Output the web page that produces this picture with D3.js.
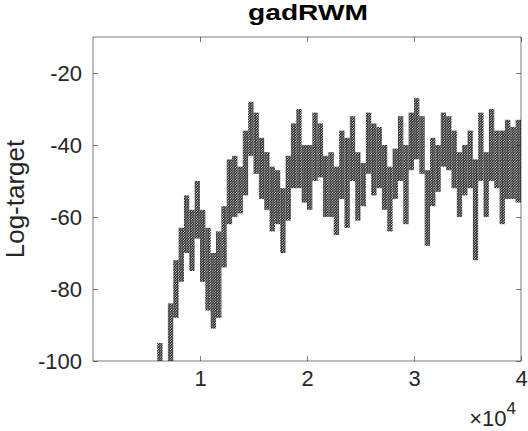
<!DOCTYPE html>
<html>
<head>
<meta charset="utf-8">
<script src="https://cdn.jsdelivr.net/npm/d3@7"></script>
<style>
body { margin: 0; background: #fff; }
text { font-family: "Liberation Sans", Arial, sans-serif; fill: #262626; }
</style>
</head>
<body>
<div id="chart"></div>
<script>
// chain trace: per 500-iteration bin, lowest and highest log-target
var iterations = [6250, 6750, 7250, 7750, 8250, 8750, 9250, 9750, 10250, 10750,
	11250, 11750, 12250, 12750, 13250, 13750, 14250, 14750, 15250, 15750,
	16250, 16750, 17250, 17750, 18250, 18750, 19250, 19750, 20250, 20750,
	21250, 21750, 22250, 22750, 23250, 23750, 24250, 24750, 25250, 25750,
	26250, 26750, 27250, 27750, 28250, 28750, 29250, 29750, 30250, 30750,
	31250, 31750, 32250, 32750, 33250, 33750, 34250, 34750, 35250, 35750,
	36250, 36750, 37250, 37750, 38250, 38750, 39250, 39750];
var traceLow = [-104, -106, -101, -88, -78, -70, -75, -66, -78, -86,
	-91, -88, -74, -62, -60, -59, -54, -43, -48, -55,
	-58, -64, -62, -70, -61, -52, -52, -56, -58, -50,
	-49, -60, -60, -65, -55, -63, -50, -61, -57, -48,
	-54, -52, -58, -64, -55, -50, -62, -47, -44, -48,
	-68, -57, -53, -46, -47, -52, -60, -54, -52, -72,
	-50, -60, -50, -52, -62, -55, -55, -56];
var traceHigh = [-95, -101, -84, -72, -63, -54, -58, -50, -58, -63,
	-70, -64, -57, -44, -43, -46, -36, -28, -31, -38,
	-42, -46, -47, -52, -43, -34, -30, -40, -40, -31,
	-34, -43, -42, -46, -36, -38, -32, -42, -45, -31,
	-34, -35, -40, -46, -41, -32, -40, -31, -27, -32,
	-47, -38, -40, -31, -32, -36, -42, -40, -36, -44,
	-31, -42, -30, -36, -36, -33, -35, -33];
var binWidth = 500;
var xTicks = [10000, 20000, 30000, 40000];
var xTickLabels = ["1", "2", "3", "4"];
var yTicks = [-100, -80, -60, -40, -20];

var margin = {top: 37, right: 7, bottom: 70, left: 93};
var width = 528 - margin.left - margin.right;
var height = 431 - margin.top - margin.bottom;

var svg = d3.select("#chart").append("svg")
	.attr("width", 528)
	.attr("height", 431);

var defs = svg.append("defs");
var pat = defs.append("pattern")
	.attr("id", "dots")
	.attr("patternUnits", "userSpaceOnUse")
	.attr("width", 2.6)
	.attr("height", 2.6);
pat.append("circle").attr("cx", 0.65).attr("cy", 0.65).attr("r", 0.95).attr("fill", "#000");
pat.append("circle").attr("cx", 1.95).attr("cy", 1.95).attr("r", 0.95).attr("fill", "#000");

defs.append("clipPath").attr("id", "plotclip")
	.append("rect").attr("width", width).attr("height", height);

var g = svg.append("g")
	.attr("transform", "translate(" + margin.left + "," + margin.top + ")");

var x = d3.scaleLinear().domain([0, 40000]).range([0, width]);
var y = d3.scaleLinear().domain([-100, -10]).range([height, 0]);

var bins = iterations.map(function(it, i) {
	return {it: it, lo: traceLow[i], hi: traceHigh[i]};
});

g.append("g")
	.attr("clip-path", "url(#plotclip)")
	.selectAll("rect")
	.data(bins)
  .enter().append("rect")
	.attr("x", function(d) { return x(d.it - binWidth / 2); })
	.attr("width", function(d) { return x(d.it + binWidth / 2) - x(d.it - binWidth / 2); })
	.attr("y", function(d) { return y(d.hi); })
	.attr("height", function(d) { return y(d.lo) - y(d.hi); })
	.attr("fill", "url(#dots)");

// axes, MATLAB style: ticks inside, box on
function styleAxis(sel) {
	sel.select(".domain").remove();
	sel.selectAll(".tick line").attr("stroke", "#262626").attr("stroke-width", 0.6);
	sel.selectAll(".tick text").attr("font-size", "22px").attr("fill", "#262626");
}

g.append("g")
	.attr("transform", "translate(0," + height + ")")
	.call(d3.axisBottom(x).tickValues(xTicks).tickSizeInner(-5).tickPadding(9)
		.tickFormat(function(d, i) { return xTickLabels[i]; }))
	.call(styleAxis);

g.append("g")
	.call(d3.axisTop(x).tickValues(xTicks).tickSizeInner(-5).tickFormat(""))
	.call(styleAxis);

g.append("g")
	.call(d3.axisLeft(y).tickValues(yTicks).tickSizeInner(-5).tickPadding(11)
		.tickFormat(function(d) { return String(d); }))
	.call(styleAxis);

g.append("g")
	.attr("transform", "translate(" + width + ",0)")
	.call(d3.axisRight(y).tickValues(yTicks).tickSizeInner(-5).tickFormat(""))
	.call(styleAxis);

g.append("rect")
	.attr("width", width)
	.attr("height", height)
	.attr("fill", "none")
	.attr("stroke", "#262626")
	.attr("stroke-width", 0.6);

svg.append("text")
	.attr("x", 308)
	.attr("y", 20)
	.attr("text-anchor", "middle")
	.attr("font-size", "22px")
	.attr("font-weight", "bold")
	.attr("textLength", 120)
	.attr("lengthAdjust", "spacingAndGlyphs")
	.style("fill", "#000")
	.text("gadRWM");

svg.append("text")
	.attr("transform", "translate(24," + (margin.top + height / 2) + ") rotate(-90)")
	.attr("text-anchor", "middle")
	.attr("font-size", "26px")
	.text("Log-target");

var mult = svg.append("text")
	.attr("x", 516)
	.attr("y", 426)
	.attr("text-anchor", "end")
	.attr("font-size", "22px");
mult.append("tspan").text("\u00d710");
mult.append("tspan").attr("dy", -12).attr("font-size", "17px").text("4");
</script>
</body>
</html>
